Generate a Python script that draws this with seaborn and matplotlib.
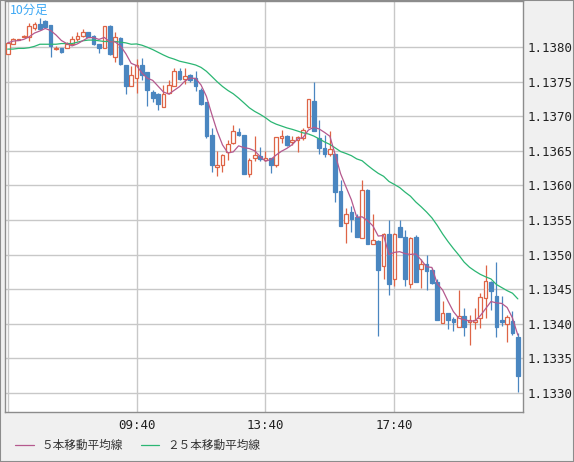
import numpy as np
import pandas as pd
import matplotlib
matplotlib.use('Agg')
import matplotlib.pyplot as plt
import seaborn as sns
from matplotlib.lines import Line2D
from matplotlib.patches import Rectangle

# 10-minute EUR/USD-style candles, first bar at 05:40
opens = [1.13790, 1.13805, 1.13810, 1.13815, 1.13815, 1.13827, 1.13833, 1.13838, 1.13832, 1.13797,
         1.13798, 1.13799, 1.13805, 1.13812, 1.13816, 1.13821, 1.13816, 1.13804, 1.13799, 1.13830,
         1.13785, 1.13813, 1.13774, 1.13744, 1.13755, 1.13774, 1.13764, 1.13735, 1.13732, 1.13714,
         1.13734, 1.13743, 1.13765, 1.13754, 1.13760, 1.13755, 1.13738, 1.13720, 1.13673, 1.13627,
         1.13629, 1.13648, 1.13661, 1.13677, 1.13673, 1.13617, 1.13639, 1.13643, 1.13637, 1.13639,
         1.13630, 1.13668, 1.13671, 1.13663, 1.13665, 1.13668, 1.13685, 1.13722, 1.13669, 1.13654,
         1.13645, 1.13646, 1.13592, 1.13546, 1.13562, 1.13555, 1.13524, 1.13593, 1.13515, 1.13520,
         1.13483, 1.13530, 1.13465, 1.13540, 1.13526, 1.13457, 1.13526, 1.13479, 1.13487, 1.13478,
         1.13460, 1.13401, 1.13416, 1.13407, 1.13396, 1.13411, 1.13403, 1.13403, 1.13408, 1.13437,
         1.13461, 1.13440, 1.13405, 1.13400, 1.13404, 1.13381]
highs = [1.13807, 1.13813, 1.13812, 1.13817, 1.13834, 1.13836, 1.13842, 1.13839, 1.13832, 1.13801,
         1.13799, 1.13807, 1.13816, 1.13821, 1.13826, 1.13822, 1.13818, 1.13805, 1.13831, 1.13832,
         1.13821, 1.13814, 1.13774, 1.13773, 1.13782, 1.13784, 1.13764, 1.13738, 1.13733, 1.13745,
         1.13753, 1.13770, 1.13769, 1.13769, 1.13761, 1.13765, 1.13741, 1.13721, 1.13683, 1.13650,
         1.13646, 1.13665, 1.13688, 1.13683, 1.13673, 1.13639, 1.13671, 1.13655, 1.13650, 1.13640,
         1.13670, 1.13680, 1.13673, 1.13672, 1.13672, 1.13683, 1.13725, 1.13750, 1.13695, 1.13673,
         1.13679, 1.13646, 1.13608, 1.13567, 1.13570, 1.13558, 1.13608, 1.13595, 1.13559, 1.13521,
         1.13531, 1.13550, 1.13531, 1.13550, 1.13536, 1.13526, 1.13529, 1.13494, 1.13500, 1.13481,
         1.13464, 1.13433, 1.13416, 1.13410, 1.13449, 1.13423, 1.13413, 1.13423, 1.13445, 1.13485,
         1.13462, 1.13490, 1.13440, 1.13413, 1.13418, 1.13387]
lows = [1.13790, 1.13804, 1.13810, 1.13815, 1.13809, 1.13825, 1.13826, 1.13829, 1.13785, 1.13795,
        1.13792, 1.13798, 1.13803, 1.13809, 1.13814, 1.13814, 1.13803, 1.13791, 1.13799, 1.13789,
        1.13779, 1.13774, 1.13732, 1.13743, 1.13734, 1.13752, 1.13715, 1.13721, 1.13709, 1.13713,
        1.13732, 1.13743, 1.13752, 1.13746, 1.13750, 1.13737, 1.13716, 1.13669, 1.13619, 1.13614,
        1.13620, 1.13637, 1.13660, 1.13671, 1.13617, 1.13612, 1.13635, 1.13635, 1.13635, 1.13618,
        1.13626, 1.13661, 1.13657, 1.13659, 1.13648, 1.13665, 1.13683, 1.13679, 1.13646, 1.13641,
        1.13643, 1.13576, 1.13542, 1.13517, 1.13532, 1.13526, 1.13524, 1.13515, 1.13515, 1.13383,
        1.13464, 1.13442, 1.13455, 1.13526, 1.13455, 1.13452, 1.13461, 1.13451, 1.13449, 1.13458,
        1.13406, 1.13401, 1.13392, 1.13389, 1.13396, 1.13383, 1.13370, 1.13393, 1.13394, 1.13409,
        1.13420, 1.13381, 1.13397, 1.13373, 1.13384, 1.13302]
closes = [1.13806, 1.13811, 1.13811, 1.13816, 1.13830, 1.13833, 1.13826, 1.13829, 1.13801, 1.13798,
          1.13793, 1.13804, 1.13812, 1.13816, 1.13821, 1.13815, 1.13804, 1.13799, 1.13830, 1.13790,
          1.13814, 1.13775, 1.13743, 1.13760, 1.13774, 1.13760, 1.13738, 1.13727, 1.13718, 1.13732,
          1.13745, 1.13765, 1.13754, 1.13758, 1.13753, 1.13743, 1.13718, 1.13672, 1.13629, 1.13630,
          1.13644, 1.13660, 1.13679, 1.13673, 1.13617, 1.13637, 1.13644, 1.13638, 1.13639, 1.13629,
          1.13670, 1.13671, 1.13659, 1.13666, 1.13670, 1.13680, 1.13725, 1.13679, 1.13654, 1.13645,
          1.13652, 1.13591, 1.13542, 1.13559, 1.13552, 1.13526, 1.13594, 1.13515, 1.13521, 1.13478,
          1.13530, 1.13457, 1.13530, 1.13526, 1.13464, 1.13524, 1.13461, 1.13486, 1.13477, 1.13459,
          1.13406, 1.13416, 1.13405, 1.13402, 1.13411, 1.13396, 1.13406, 1.13406, 1.13439, 1.13462,
          1.13448, 1.13396, 1.13402, 1.13410, 1.13386, 1.13324]
# 25-bar average for the bars whose history starts before the chart
ma25_head = [1.13797, 1.13797, 1.13798, 1.13798, 1.13799, 1.13801, 1.13804, 1.13804, 1.13804, 1.13804,
             1.13805, 1.13805, 1.13805, 1.13807, 1.13809, 1.13810, 1.13810, 1.13809, 1.13808, 1.13808,
             1.13808, 1.13807, 1.13806, 1.13804]

time_ticks = [0, 24, 48, 72]
time_labels = ['', '09:40', '13:40', '17:40']
price_ticks = [1.1330, 1.1335, 1.1340, 1.1345, 1.1350, 1.1355, 1.1360, 1.1365, 1.1370, 1.1375, 1.1380]
legend_labels = ['５本移動平均線', '２５本移動平均線']

up_col = '#de6446'
down_col = '#4a86c0'
ma5_col = '#b5598e'
ma25_col = '#2bb673'
grid_col = '#c8c8c8'

df = pd.DataFrame({'bar': np.arange(len(closes)), 'open': opens, 'high': highs,
                   'low': lows, 'close': closes})
df['ma5'] = df['close'].rolling(5, min_periods=1).mean()
df['ma25'] = df['close'].rolling(25).mean()
df.loc[:len(ma25_head) - 1, 'ma25'] = ma25_head
df['up'] = df['close'] >= df['open']

sns.set_style('white')
plt.rcParams['font.family'] = ['DejaVu Sans Mono']

fig = plt.figure(figsize=(5.74, 4.62), dpi=100, facecolor='#f0f0f0')
ax = fig.add_axes([5 / 574, 1 - 412 / 462, 518 / 574, 411 / 462])
ax.set_facecolor('white')

# grid
for p in price_ticks:
    ax.axhline(p, color=grid_col, lw=1.0, zorder=0)
for t in time_ticks:
    ax.axvline(t, color=grid_col, lw=1.0, zorder=0)

# candles
w = 0.68
for up, col in [(True, up_col), (False, down_col)]:
    d = df[df['up'] == up]
    ax.vlines(d['bar'], d['low'], d['high'], color=col, lw=0.9, zorder=2)
    bottom = d[['open', 'close']].min(axis=1)
    height = (d['close'] - d['open']).abs().clip(lower=0.000004)
    ax.bar(d['bar'], height, bottom=bottom, width=w,
           facecolor='white' if up else col, edgecolor=col, linewidth=0.9, zorder=3)

sns.lineplot(data=df, x='bar', y='ma25', color=ma25_col, lw=0.9, ax=ax, zorder=4)
sns.lineplot(data=df, x='bar', y='ma5', color=ma5_col, lw=0.9, ax=ax, zorder=5)

ax.set_xlim(-0.5, 95.96)
ax.set_ylim(1.132725, 1.138665)
ax.set_xticks(time_ticks)
ax.set_xticklabels(time_labels)
ax.set_yticks(price_ticks)
ax.set_yticklabels([f'{p:.4f}' for p in price_ticks])
ax.yaxis.tick_right()
ax.tick_params(axis='both', length=0, labelsize=9, colors='#222222')
ax.tick_params(axis='y', pad=3)
ax.tick_params(axis='x', pad=5)
ax.set_xlabel('')
ax.set_ylabel('')
for s in ax.spines.values():
    s.set_color('#8c8c8c')
    s.set_linewidth(1.0)

ax.text(0.010, 0.993, '10分足', transform=ax.transAxes, ha='left', va='top',
        fontsize=8.9, color='#3fa9f5', family=['Noto Sans CJK JP', 'DejaVu Sans'])

handles = [Line2D([], [], color=ma5_col, lw=0.9), Line2D([], [], color=ma25_col, lw=0.9)]
fig.legend(handles, legend_labels, loc='center left', bbox_to_anchor=(0.008, 0.035),
           ncol=2, frameon=False, handlelength=1.6, handletextpad=0.7, columnspacing=1.5,
           prop={'family': ['Noto Sans CJK JP', 'DejaVu Sans'], 'size': 8.4},
           labelcolor='#333333')

fig.add_artist(Rectangle((0, 0), 1, 1, transform=fig.transFigure, fill=False,
                         edgecolor='#8c8c8c', lw=1.5))

fig.savefig('out.png', dpi=100, facecolor=fig.get_facecolor())
